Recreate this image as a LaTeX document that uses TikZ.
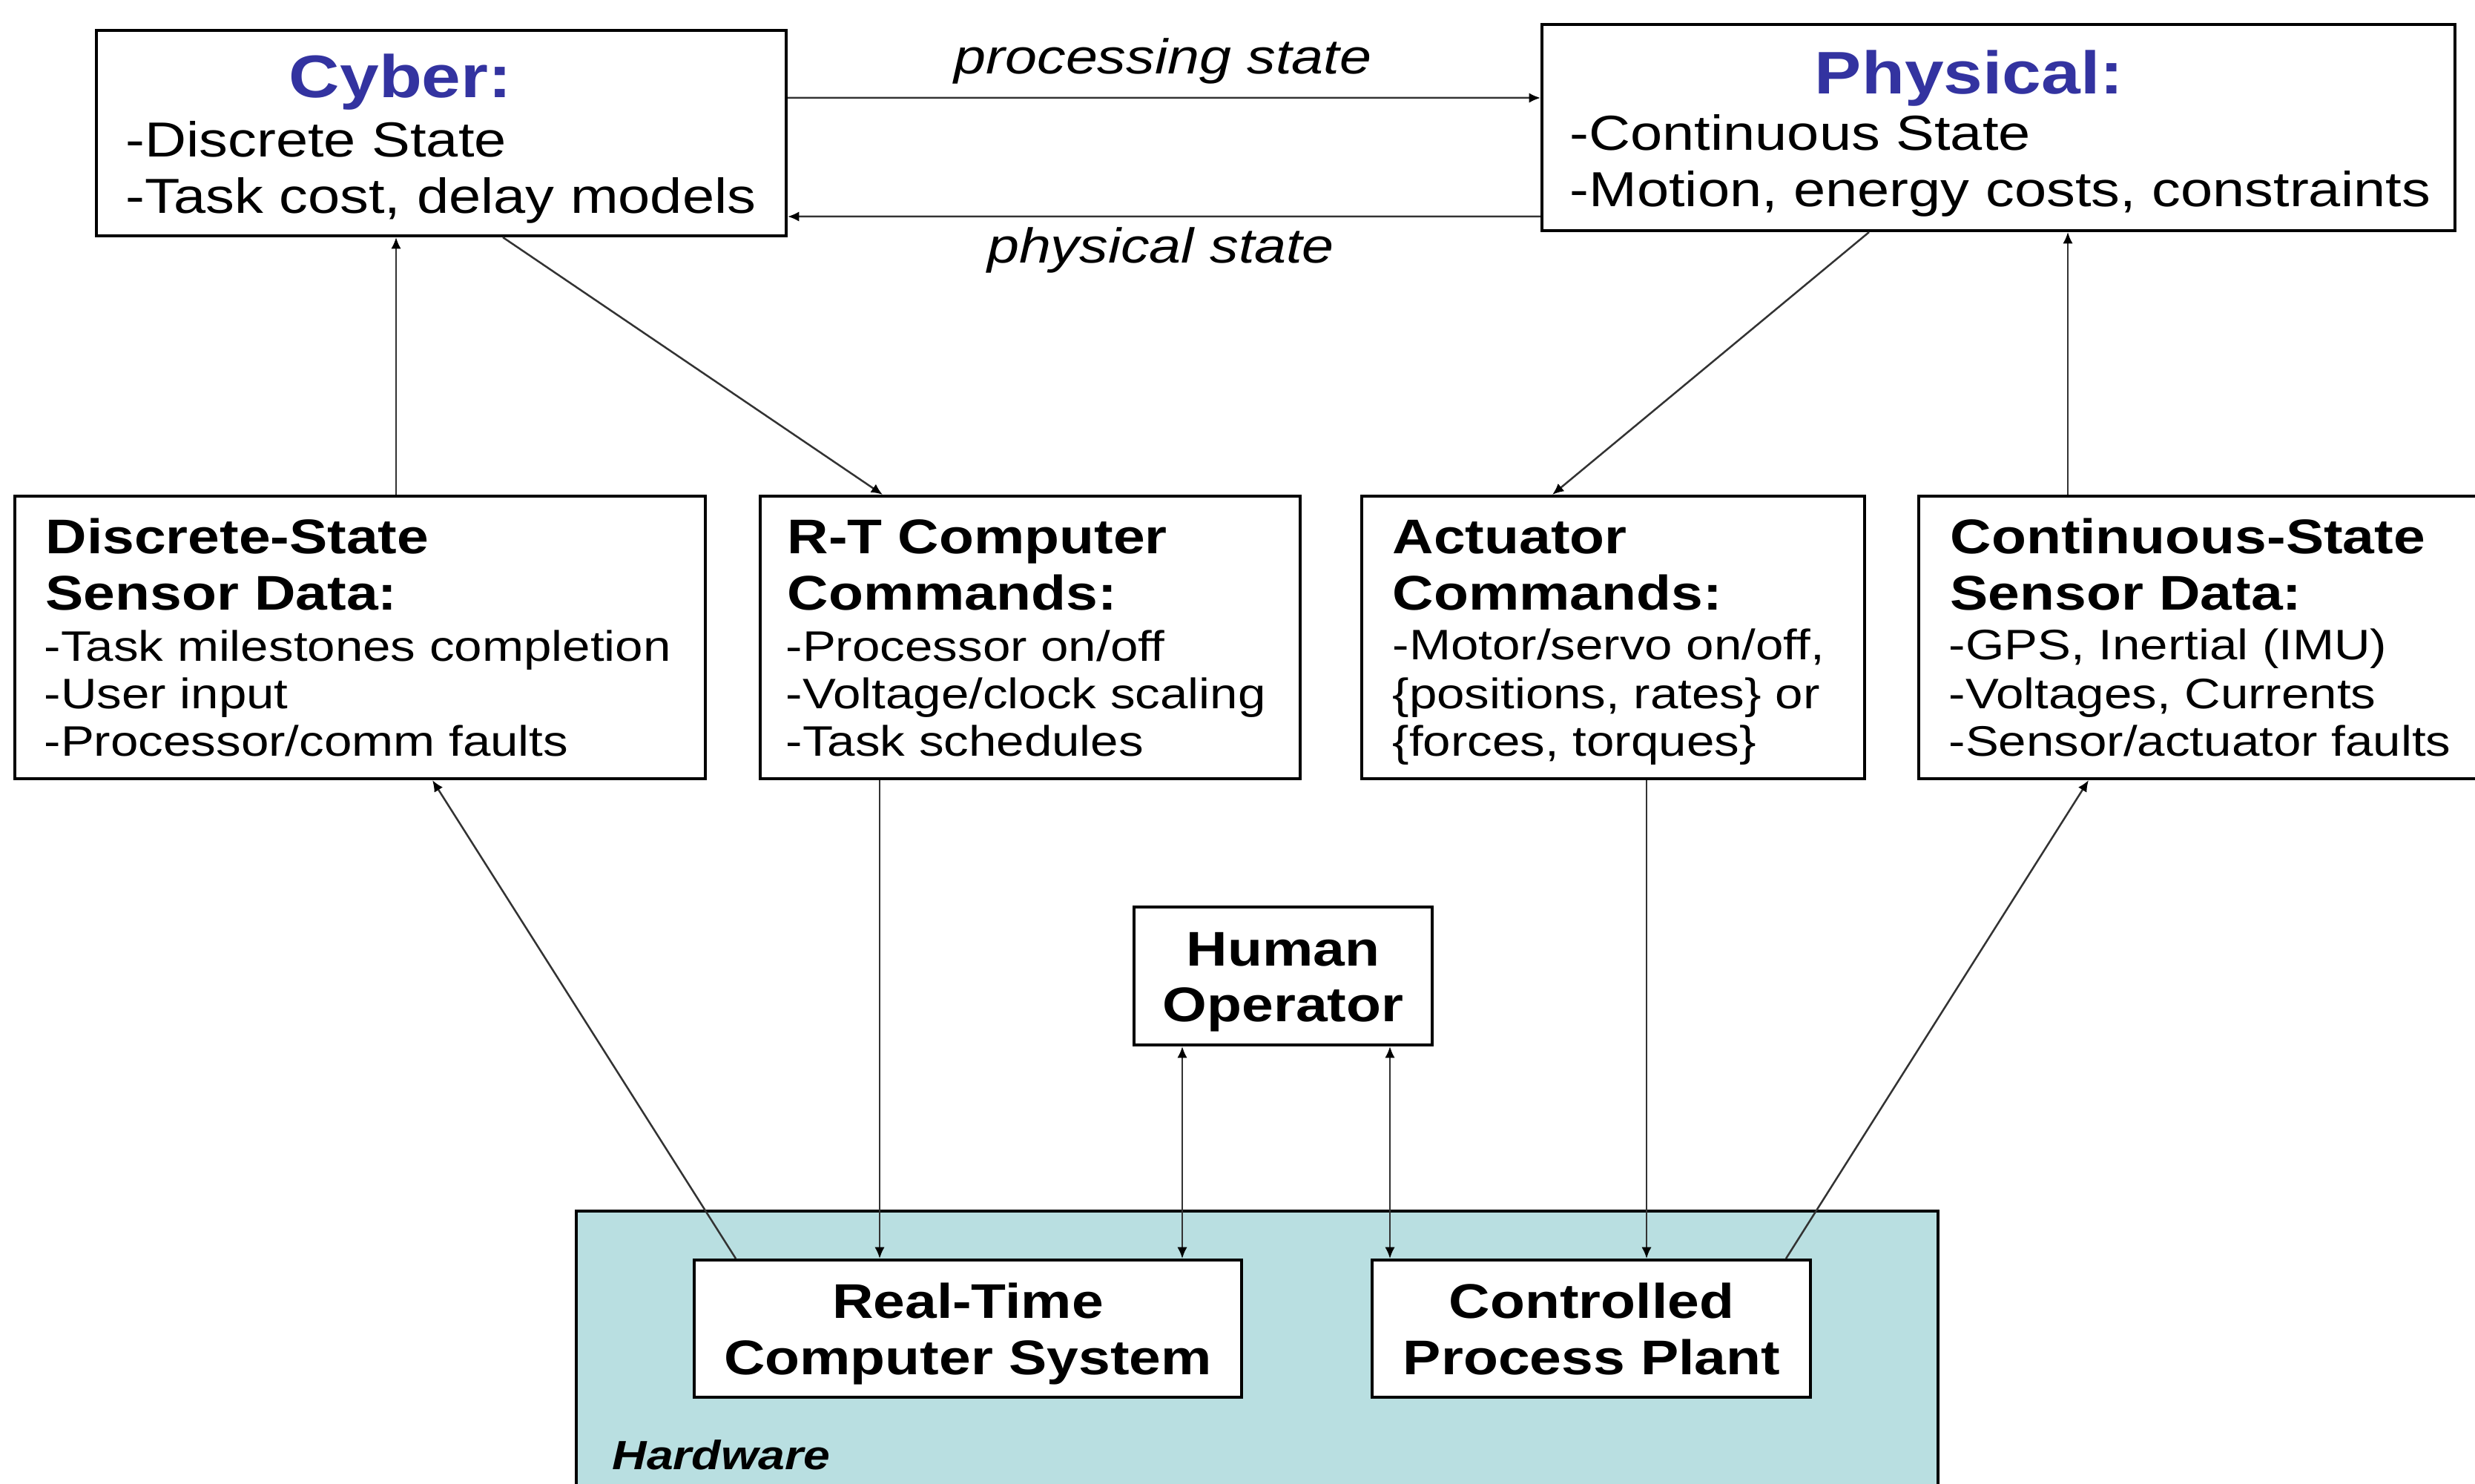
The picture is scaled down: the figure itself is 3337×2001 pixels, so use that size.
\documentclass[tikz,border=0pt]{standalone}
\usepackage{fontspec}
\setmainfont{Liberation Sans}[FakeStretch=1.17]
\usetikzlibrary{arrows.meta,calc,fit}
\definecolor{cybblue}{RGB}{51,51,160}
\definecolor{hwfill}{RGB}{185,223,225}

\begin{document}
\begin{tikzpicture}[x=0.3pt,y=-0.3pt,
  box/.style={draw=black,line width=1.2pt,fill=white,inner sep=0pt},
  txt/.style={inner sep=0pt,anchor=base west},
  ctxt/.style={inner sep=0pt,anchor=base},
  ttl/.style={font=\fontsize{24.3}{29}\selectfont\bfseries,text=cybblue},
  big/.style={font=\fontsize{19.9}{24}\selectfont},
  hd/.style={font=\fontsize{19.7}{24}\selectfont\bfseries},
  sm/.style={font=\fontsize{17.25}{21}\selectfont},
  lbl/.style={font=\fontsize{19.8}{24}\selectfont\itshape},
  hw/.style={font=\fontsize{16.5}{20}\selectfont\bfseries\itshape},
  conn/.style={draw=black!80,line width=0.75pt},
  tip/.style={conn,-{Latex[length=4.6pt,width=4pt,black]}},
  tips/.style={conn,{Latex[length=4.6pt,width=4pt,black]}-{Latex[length=4.6pt,width=4pt,black]}}]

\useasboundingbox (0,0) rectangle (3337,2001);
\clip (0,0) rectangle (3337,2001);

% hardware layer
\node[box,fill=hwfill,fit={(777,1633) (2613,2060)}] (hardware) {};
\node[txt,hw] (hwlabel) at (825,1981) {Hardware};

% top row
\node[box,fit={(130,41) (1060,318)}] (cyber) {};
\node[ctxt,ttl] (cyberT) at (540,132) {Cyber:};
\node[txt,big] (cyber1) at (169,212) {-Discrete State};
\node[txt,big] (cyber2) at (169,288) {-Task cost, delay models};

\node[box,fit={(2079,33) (3310,311)}] (phys) {};
\node[ctxt,ttl] (physT) at (2655,127) {Physical:};
\node[txt,big] (phys1) at (2116,203) {-Continuous State};
\node[txt,big] (phys2) at (2116,279) {-Motion, energy costs, constraints};

\node[ctxt,lbl] (procLbl) at (1568,100) {processing state};
\node[ctxt,lbl] (physLbl) at (1565,355) {physical state};

% middle row
\node[box,fit={(20,669) (951,1050)}] (disc) {};
\node[txt,hd] (disc1) at (61,747) {Discrete-State};
\node[txt,hd] (disc2) at (61,823) {Sensor Data:};
\node[txt,sm] (disc3) at (59,891) {-Task milestones completion};
\node[txt,sm] (disc4) at (59,955) {-User input};
\node[txt,sm] (disc5) at (59,1019) {-Processor/comm faults};

\node[box,fit={(1025,669) (1753,1050)}] (rtc) {};
\node[txt,hd] (rtc1) at (1061,747) {R-T Computer};
\node[txt,hd] (rtc2) at (1061,823) {Commands:};
\node[txt,sm] (rtc3) at (1059,891) {-Processor on/off};
\node[txt,sm] (rtc4) at (1059,955) {-Voltage/clock scaling};
\node[txt,sm] (rtc5) at (1059,1019) {-Task schedules};

\node[box,fit={(1836,669) (2514,1050)}] (act) {};
\node[txt,hd] (act1) at (1877,747) {Actuator};
\node[txt,hd] (act2) at (1877,823) {Commands:};
\node[txt,sm] (act3) at (1877,889) {-Motor/servo on/off,};
\node[txt,sm] (act4) at (1877,955) {\{positions, rates\} or};
\node[txt,sm] (act5) at (1877,1019) {\{forces, torques\}};

\node[box,fit={(2587,669) (3380,1050)}] (cont) {};
\node[txt,hd] (cont1) at (2629,747) {Continuous-State};
\node[txt,hd] (cont2) at (2629,823) {Sensor Data:};
\node[txt,sm] (cont3) at (2627,889) {-GPS, Inertial (IMU)};
\node[txt,sm] (cont4) at (2627,955) {-Voltages, Currents};
\node[txt,sm] (cont5) at (2627,1019) {-Sensor/actuator faults};

% operator and hardware blocks
\node[box,fit={(1529,1223) (1931,1409)}] (human) {};
\node[ctxt,hd] (human1) at (1730,1302) {Human};
\node[ctxt,hd] (human2) at (1730,1377) {Operator};

\node[box,fit={(936,1699) (1674,1884)}] (rts) {};
\node[ctxt,hd] (rts1) at (1305,1777) {Real-Time};
\node[ctxt,hd] (rts2) at (1305,1853) {Computer System};

\node[box,fit={(1850,1699) (2441,1884)}] (plant) {};
\node[ctxt,hd] (plant1) at (2146,1777) {Controlled};
\node[ctxt,hd] (plant2) at (2146,1853) {Process Plant};

% connectors between the top boxes
\draw[tip] ($(cyber.north east)+(0,93)$) -- ($(phys.north west)+(0,101)$);
\draw[tip] ($(phys.north west)+(0,261)$) -- ($(cyber.north east)+(0,253)$);

% connectors between top and middle rows
\draw[tip] ($(disc.north west)+(516,0)$) -- ($(cyber.south west)+(406,0)$);
\draw[tip] ($(cyber.south west)+(550,0)$) -- ($(rtc.north west)+(167,0)$);
\draw[tip] ($(phys.south west)+(443,0)$) -- ($(act.north west)+(259,0)$);
\draw[tip] ($(cont.north west)+(203,0)$) -- ($(phys.south west)+(711,0)$);

% connectors down to the hardware
\draw[tip] ($(rts.north west)+(58,0)$) -- ($(disc.south west)+(565,0)$);
\draw[tip] ($(rtc.south west)+(163,0)$) -- ($(rts.north west)+(252,0)$);
\draw[tips] ($(human.south west)+(67,0)$) -- ($(rts.north west)+(660,0)$);
\draw[tips] ($(human.south west)+(347,0)$) -- ($(plant.north west)+(26,0)$);
\draw[tip] ($(act.south west)+(386,0)$) -- ($(plant.north west)+(372,0)$);
\draw[tip] ($(plant.north west)+(560,0)$) -- ($(cont.south west)+(231,0)$);
\end{tikzpicture}
\end{document}
